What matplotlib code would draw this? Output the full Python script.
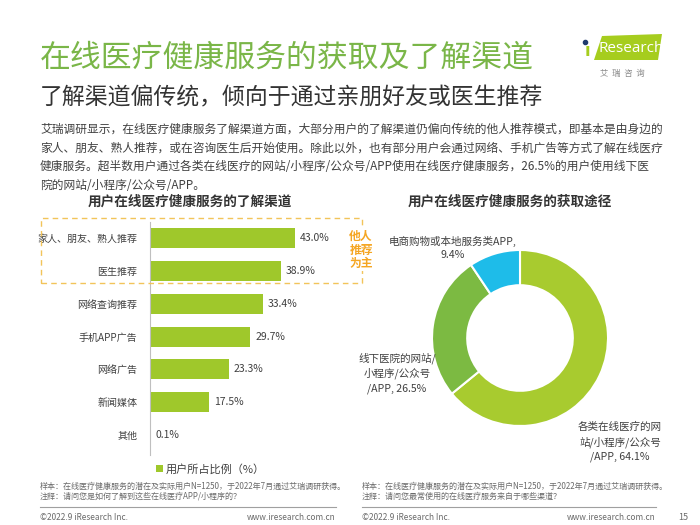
import matplotlib.pyplot as plt
from matplotlib.patches import Patch, Polygon, Rectangle
from matplotlib.lines import Line2D

plt.rcParams["font.family"] = ["Noto Sans CJK SC", "DejaVu Sans"]

W, H = 700, 525

# left chart: channels users learn about online health services
channels = ["家人、朋友、熟人推荐", "医生推荐", "网络查询推荐", "手机APP广告", "网络广告", "新闻媒体", "其他"]
channel_share = [43.0, 38.9, 33.4, 29.7, 23.3, 17.5, 0.1]

# right chart: where users access the services
routes = ["各类在线医疗的网\n站/小程序/公众号\n/APP", "线下医院的网站/\n小程序/公众号\n/APP", "电商购物或本地服务类APP,\n"]
route_share = [64.1, 26.5, 9.4]

BAR_GREEN = "#9fc82b"
DONUT_COLORS = ["#a8cb2f", "#7cba42", "#1ebce9"]
TEXT = "#404040"
GRAY = "#6b6b6b"


def fx(x):
    return x / W


def fy(y):
    return 1 - y / H


def rect(x0, y0, x1, y1):
    return [fx(x0), fy(y1), (x1 - x0) / W, (y1 - y0) / H]


fig = plt.figure(figsize=(7, 5.25), dpi=100)

# headings
fig.text(fx(40), fy(58), "在线医疗健康服务的获取及了解渠道", fontsize=22.2, color="#7ab648",
         va="center", ha="left")
fig.text(fx(40), fy(98), "了解渠道偏传统，倾向于通过亲朋好友或医生推荐", fontsize=16.5,
         color="#333333", va="center", ha="left")

# logo
logo = Polygon([(fx(602), fy(36)), (fx(662), fy(34)), (fx(658), fy(60)), (fx(594), fy(60))],
               closed=True, transform=fig.transFigure, facecolor="#a6cd1e", edgecolor="none")
fig.patches.append(logo)
fig.text(fx(587), fy(51), "ı", fontsize=12, color="#a6cd1e", family="DejaVu Sans",
         fontweight="bold", va="center", ha="center")
fig.lines.append(Line2D([fx(585)], [fy(42)], transform=fig.transFigure, marker="o",
                        markersize=3, color="#1f3a6e", linestyle="none"))
fig.text(fx(599), fy(48), "Research", fontsize=11, color="white", family="Open Sans",
         va="center", ha="left")
fig.text(fx(622), fy(73), "艾  瑞  咨  询", fontsize=6, color="#8a8a8a", va="center", ha="center")

intro = [
    "艾瑞调研显示，在线医疗健康服务了解渠道方面，大部分用户的了解渠道仍偏向传统的他人推荐模式，即基本是由身边的",
    "家人、朋友、熟人推荐，或在咨询医生后开始使用。除此以外，也有部分用户会通过网络、手机广告等方式了解在线医疗",
    "健康服务。超半数用户通过各类在线医疗的网站/小程序/公众号/APP使用在线医疗健康服务，26.5%的用户使用线下医",
    "院的网站/小程序/公众号/APP。",
]
for i, line in enumerate(intro):
    fig.text(fx(40), fy(129 + i * 18.8), line, fontsize=8.45, color=TEXT, va="center", ha="left")

fig.text(fx(190), fy(202), "用户在线医疗健康服务的了解渠道", fontsize=9.8, fontweight="bold",
         color="#333333", va="center", ha="center")
fig.text(fx(510), fy(202), "用户在线医疗健康服务的获取途径", fontsize=9.8, fontweight="bold",
         color="#333333", va="center", ha="center")

# bar chart
ax = fig.add_axes(rect(150, 222, 345, 455))
ypos = list(range(len(channels)))
ax.barh(ypos, channel_share, height=0.61, color=BAR_GREEN)
for y, v in zip(ypos, channel_share):
    ax.text(v + 1.5, y, f"{v:.1f}%", fontsize=7.5, color=TEXT, va="center", ha="left")
ax.set_yticks(ypos)
ax.set_yticklabels(channels, fontsize=7.2, color=TEXT)
ax.tick_params(axis="y", length=0, pad=9)
ax.set_xticks([])
ax.set_xlim(0, 195 / 3.37)
ax.set_ylim(6.61, -0.49)
for s in ["top", "right", "bottom"]:
    ax.spines[s].set_visible(False)
ax.spines["left"].set_color("#bfbfbf")
ax.spines["left"].set_linewidth(0.8)

# dashed highlight box
box = Rectangle((fx(41), fy(283)), (362 - 41) / W, (283 - 218) / H, transform=fig.transFigure,
                fill=False, edgecolor="#f2c45a", linestyle=(0, (4, 3)), linewidth=1)
fig.patches.append(box)
fig.text(fx(361), fy(250), "他人\n推荐\n为主", fontsize=8.5, fontweight="bold", color="#f5a623",
         va="center", ha="center", linespacing=1.05,
         bbox=dict(facecolor="white", edgecolor="none", pad=1))

ax.legend([Patch(facecolor=BAR_GREEN)], ["用户所占比例（%）"], loc="center left",
          bbox_to_anchor=(fx(146), fy(469)), bbox_transform=fig.transFigure, frameon=False,
          handlelength=0.6, handleheight=0.6, handletextpad=0.3, prop={"size": 8},
          labelcolor=TEXT)

# donut chart
ax2 = fig.add_axes(rect(432, 250, 608, 426))
ax2.pie(route_share, colors=DONUT_COLORS, startangle=90, counterclock=False, radius=1,
        wedgeprops=dict(width=0.4, edgecolor="white", linewidth=1.5))
ax2.set_xlim(-1, 1)
ax2.set_ylim(-1, 1)
ax2.set_aspect("equal")

label_pos = [(620, 442, "center"), (397, 373, "center"), (453, 248, "center")]
for name, v, (x, y, ha) in zip(routes, route_share, label_pos):
    if name.endswith("\n"):
        txt = f"{name}{v:.1f}%"
    else:
        txt = f"{name}, {v:.1f}%"
    fig.text(fx(x), fy(y), txt, fontsize=7.6, color=TEXT, va="center", ha=ha, linespacing=1.45)

# notes & footer
notes_l = ["样本：在线医疗健康服务的潜在及实际用户N=1250，于2022年7月通过艾瑞调研获得。",
           "注释：请问您是如何了解到这些在线医疗APP/小程序的？"]
notes_r = ["样本：在线医疗健康服务的潜在及实际用户N=1250，于2022年7月通过艾瑞调研获得。",
           "注释：请问您最常使用的在线医疗服务来自于哪些渠道？"]
for i, (a, b) in enumerate(zip(notes_l, notes_r)):
    fig.text(fx(40), fy(486 + i * 10.5), a, fontsize=5.8, color=GRAY, va="center", ha="left")
    fig.text(fx(362), fy(486 + i * 10.5), b, fontsize=5.8, color=GRAY, va="center", ha="left")

for x0, x1 in [(40, 336), (362, 656)]:
    fig.lines.append(Line2D([fx(x0), fx(x1)], [fy(507), fy(507)], transform=fig.transFigure,
                            color="#a0a0a0", linewidth=0.8))

fig.text(fx(40), fy(517), "©2022.9 iResearch Inc.", fontsize=6, color=GRAY, va="center", ha="left")
fig.text(fx(336), fy(517), "www.iresearch.com.cn", fontsize=6, color=GRAY, va="center", ha="right")
fig.text(fx(362), fy(517), "©2022.9 iResearch Inc.", fontsize=6, color=GRAY, va="center", ha="left")
fig.text(fx(656), fy(517), "www.iresearch.com.cn", fontsize=6, color=GRAY, va="center", ha="right")
fig.text(fx(683), fy(517), "15", fontsize=6.5, color=GRAY, va="center", ha="center")

fig.savefig("out.png", dpi=100)
